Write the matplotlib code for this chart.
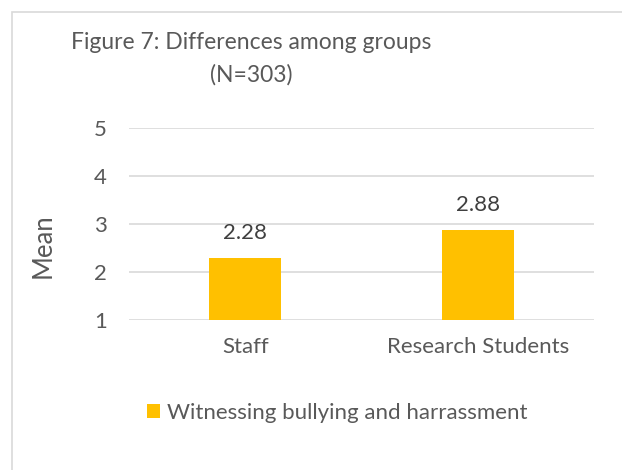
import matplotlib
matplotlib.use("Agg")
import matplotlib.pyplot as plt
from matplotlib.patches import Rectangle

# chart data
groups = ["Staff", "Research Students"]
means = [2.28, 2.88]
series_name = "Witnessing bullying and harrassment"
y_ticks = [1, 2, 3, 4, 5]
title_text = "Figure 7: Differences among groups\n(N=303)"

bar_color = "#FFC000"
text_color = "#595959"
grid_color = "#D9D9D9"

plt.rcParams["font.family"] = ["Lato", "DejaVu Sans"]

W, H = 622, 470
fig = plt.figure(figsize=(W / 100, H / 100), dpi=100)

# outer chart frame (cropped on right and bottom)
fig.add_artist(Rectangle((12 / W, -0.1), 1.2, 1 - 12 / H + 0.1,
                         transform=fig.transFigure, fill=False,
                         edgecolor=grid_color, linewidth=1.2))

ax = fig.add_axes([129 / W, 1 - 320 / H, (594 - 129) / W, (320 - 127.7) / H])

x = range(len(groups))
bars = ax.bar(x, [m - 1 for m in means], bottom=1, width=0.31,
              color=bar_color, zorder=3)

for xi, m in zip(x, means):
    ax.annotate(f"{m:.2f}", (xi, m), xytext=(0, 18), textcoords="offset points",
                ha="center", va="center", fontsize=16, color="#404040")

ax.set_xlim(-0.5, len(groups) - 0.5)
ax.set_ylim(1, 5)
ax.set_yticks(y_ticks)
ax.set_xticks(list(x))
ax.set_xticklabels(groups)
ax.tick_params(axis="both", length=0, labelsize=16, labelcolor=text_color)
ax.tick_params(axis="x", pad=12)
ax.tick_params(axis="y", pad=16)
ax.grid(axis="y", color=grid_color, linewidth=1.2, zorder=0)
for s in ax.spines.values():
    s.set_visible(False)

ax.set_ylabel("Mean", fontsize=18.5, color=text_color)
ax.yaxis.set_label_coords(-0.157, 0.385)

fig.text(251 / W, 1 - 59 / H, title_text, ha="center", va="center",
         multialignment="center", fontsize=16.5, color=text_color,
         linespacing=1.6)

ax.legend([bars], [series_name], loc="center", frameon=False, fontsize=16,
          labelcolor=text_color, handlelength=0.62, handleheight=0.62,
          handletextpad=0.3,
          bbox_to_anchor=(337 / W, 1 - 413 / H), bbox_transform=fig.transFigure)

fig.savefig("out.png", dpi=100)
